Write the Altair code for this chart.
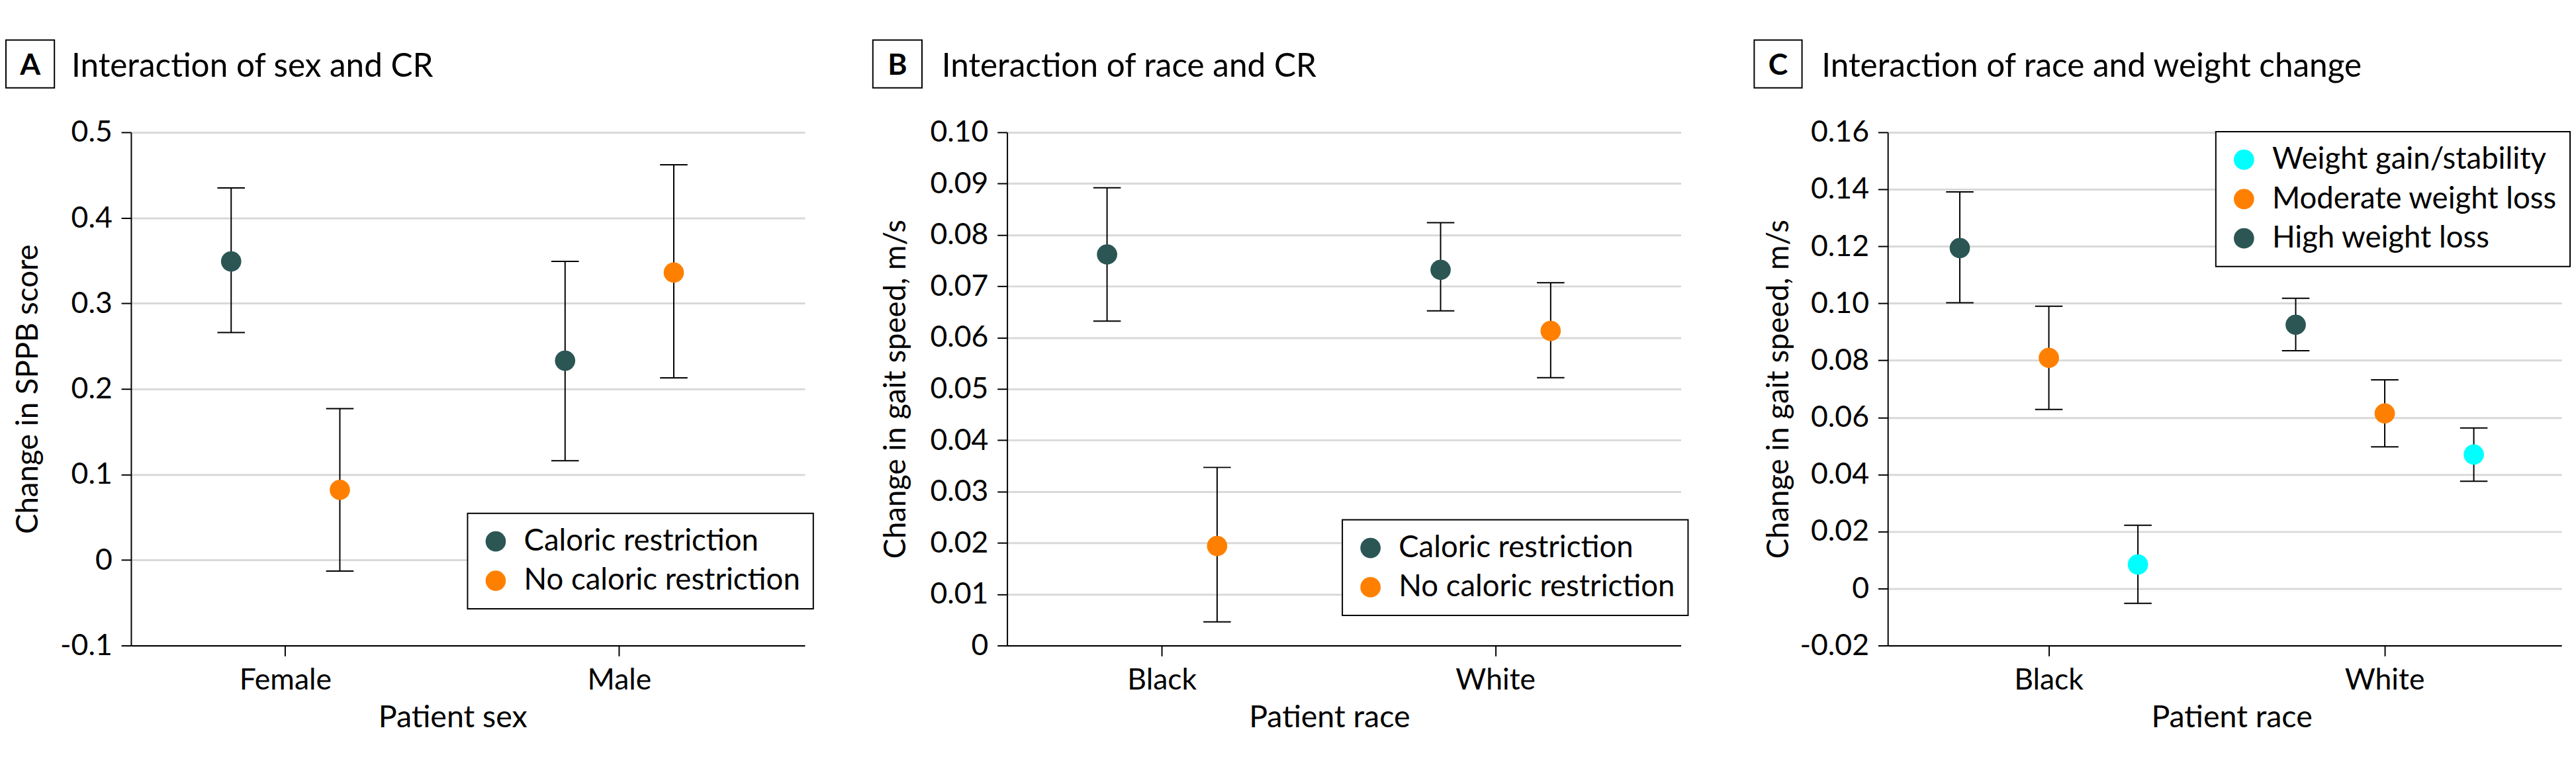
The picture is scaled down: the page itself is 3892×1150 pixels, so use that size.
import altair as alt
import pandas as pd

# ---------------- data ----------------
# Panel A: change in SPPB score by sex and caloric restriction
sex_categories = ["Female", "Male"]
cr_groups = ["Caloric restriction", "No caloric restriction"]
a_sex = ["Female", "Female", "Male", "Male"]
a_group = ["Caloric restriction", "No caloric restriction", "Caloric restriction", "No caloric restriction"]
a_mean = [0.349, 0.082, 0.233, 0.336]
a_lower = [0.266, -0.013, 0.116, 0.213]
a_upper = [0.435, 0.177, 0.349, 0.462]
a_ticks = [-0.1, 0.0, 0.1, 0.2, 0.3, 0.4, 0.5]

# Panel B: change in gait speed by race and caloric restriction
race_categories = ["Black", "White"]
b_race = ["Black", "Black", "White", "White"]
b_group = ["Caloric restriction", "No caloric restriction", "Caloric restriction", "No caloric restriction"]
b_mean = [0.0762, 0.0194, 0.0732, 0.0613]
b_lower = [0.0632, 0.0046, 0.0652, 0.0522]
b_upper = [0.0892, 0.0347, 0.0824, 0.0707]
b_ticks = [0.0, 0.01, 0.02, 0.03, 0.04, 0.05, 0.06, 0.07, 0.08, 0.09, 0.10]

# Panel C: change in gait speed by race and weight change
wc_legend_order = ["Weight gain/stability", "Moderate weight loss", "High weight loss"]
wc_dodge_order = ["High weight loss", "Moderate weight loss", "Weight gain/stability"]
c_race = ["Black", "Black", "Black", "White", "White", "White"]
c_group = ["High weight loss", "Moderate weight loss", "Weight gain/stability",
           "High weight loss", "Moderate weight loss", "Weight gain/stability"]
c_mean = [0.1194, 0.0809, 0.0084, 0.0925, 0.0614, 0.0470]
c_lower = [0.1002, 0.0628, -0.0052, 0.0834, 0.0497, 0.0376]
c_upper = [0.1391, 0.0990, 0.0222, 0.1018, 0.0732, 0.0563]
c_ticks = [-0.02, 0.0, 0.02, 0.04, 0.06, 0.08, 0.10, 0.12, 0.14, 0.16]

TEAL = "#2B5654"
ORANGE = "#FF8000"
CYAN = "#00FFFF"

FONT = "Lato"
W, H = 1029, 784


def panel(cats, cat_vals, groups, means, lowers, uppers, x_title, y_title,
          y_domain, y_ticks, y_fmt, color_domain, color_range, dodge_order,
          band, legend_xy, letter, title, box_x, title_x, y_title_x, x_title_x):
    df = pd.DataFrame({"cat": cat_vals, "grp": groups, "mean": means,
                       "lower": lowers, "upper": uppers})
    pi, po, al = band
    x_enc = alt.X("cat:N", sort=cats,
                  scale=alt.Scale(type="band", domain=cats, paddingInner=pi,
                                  paddingOuter=po, align=al),
                  axis=alt.Axis(title=x_title, labelAngle=0, labelFontSize=45,
                                labelColor="black", labelPadding=51,
                                labelBaseline="alphabetic", tickSize=16,
                                tickWidth=2, tickColor="black",
                                domainColor="black", domainWidth=2, grid=False,
                                titleFontSize=47, titleFontWeight="normal",
                                titleColor="black", titleX=x_title_x, titleY=124,
                                titleBaseline="alphabetic", titleAlign="center"))
    off_enc = alt.XOffset("grp:N", sort=dodge_order,
                          scale=alt.Scale(domain=dodge_order, paddingInner=0,
                                          paddingOuter=0))
    label_expr = ("datum.value == 0 ? '0' : replace(format(datum.value, '" + y_fmt +
                  "'), '\u2212', '-')")
    y_axis = alt.Axis(title=y_title, values=y_ticks, labelExpr=label_expr,
                      labelFontSize=45, labelColor="black", labelPadding=14,
                      labelOverlap=False, tickSize=15, tickWidth=2,
                      tickColor="black", domainColor="black", domainWidth=2,
                      grid=True, gridColor="#D9D9D9", gridWidth=3,
                      titleFontSize=46, titleFontWeight="normal",
                      titleColor="black", titleX=y_title_x, titleY=H / 2,
                      titleBaseline="alphabetic", titleAlign="center")
    y_scale = alt.Scale(domain=y_domain, nice=False, zero=False)

    base = alt.Chart(df)
    rules = base.mark_rule(color="black", strokeWidth=2).encode(
        x=x_enc, xOffset=off_enc,
        y=alt.Y("lower:Q", scale=y_scale, axis=y_axis), y2="upper:Q")
    caps_lo = base.mark_tick(color="black", thickness=2, size=42, opacity=1).encode(
        x=x_enc, xOffset=off_enc, y=alt.Y("lower:Q", scale=y_scale, axis=y_axis))
    caps_hi = base.mark_tick(color="black", thickness=2, size=42, opacity=1).encode(
        x=x_enc, xOffset=off_enc, y=alt.Y("upper:Q", scale=y_scale, axis=y_axis))
    lx, ly = legend_xy
    points = base.mark_circle(size=962, opacity=1).encode(
        x=x_enc, xOffset=off_enc,
        y=alt.Y("mean:Q", scale=y_scale, axis=y_axis),
        color=alt.Color("grp:N", sort=color_domain,
                        scale=alt.Scale(domain=color_domain, range=color_range),
                        legend=alt.Legend(title=None, orient="none", legendX=lx,
                                          legendY=ly, labelFontSize=46,
                                          labelColor="black", labelLimit=2000,
                                          symbolType="circle", symbolSize=962,
                                          symbolStrokeWidth=0, symbolOpacity=1,
                                          padding=20, rowPadding=14,
                                          labelOffset=20, fillColor="white")))

    tdf = pd.DataFrame({"letter": [letter], "title": [title]})
    x0, x1 = box_x
    box = alt.Chart(tdf).mark_rect(fill="white", stroke="black", strokeWidth=2).encode(
        x=alt.value(x0), x2=alt.value(x1), y=alt.value(-141), y2=alt.value(-68))
    letter_mark = alt.Chart(tdf).mark_text(fontSize=45, fontWeight="bold",
                                           align="center", baseline="alphabetic",
                                           color="black").encode(
        text="letter:N", x=alt.value((x0 + x1) / 2), y=alt.value(-88))
    title_mark = alt.Chart(tdf).mark_text(fontSize=50, align="left",
                                          baseline="alphabetic",
                                          color="black").encode(
        text="title:N", x=alt.value(title_x), y=alt.value(-85))

    return alt.layer(rules, caps_lo, caps_hi, points, box, letter_mark,
                     title_mark).properties(width=W, height=H)


chart_a = panel(sex_categories, a_sex, a_group, a_mean, a_lower, a_upper,
                "Patient sex", "Change in SPPB score", [-0.1, 0.5], a_ticks, ".1f",
                cr_groups, [TEAL, ORANGE], cr_groups,
                (0.349, 0.1833, 0.374), (514, 582), "A",
                "Interaction of sex and CR", (-191, -117), -91, -143, 491)

chart_b = panel(race_categories, b_race, b_group, b_mean, b_lower, b_upper,
                "Patient race", "Change in gait speed, m/s", [0.0, 0.10], b_ticks, ".2f",
                cr_groups, [TEAL, ORANGE], cr_groups,
                (0.34, 0.18, 0.374), (512, 592), "B",
                "Interaction of race and CR", (-205, -130), -100, -156, 492)

chart_c = panel(race_categories, c_race, c_group, c_mean, c_lower, c_upper,
                "Patient race", "Change in gait speed, m/s", [-0.02, 0.16], c_ticks, ".2f",
                wc_legend_order, [CYAN, ORANGE, TEAL], wc_dodge_order,
                (0.2047, 0.1053, 0.389), (501, -1), "C",
                "Interaction of race and weight change", (-204, -131), -101, -152, 525)


def independent(c):
    return c.resolve_scale(x="independent", y="independent", color="independent",
                           xOffset="independent").resolve_legend(color="independent")


inner = independent(alt.hconcat(chart_b, chart_c, spacing=99))
chart = independent(alt.hconcat(chart_a, inner, spacing=89)).properties(
    padding={"left": 0, "top": 46, "right": 0, "bottom": 0}
).configure(font=FONT).configure_view(strokeWidth=0).configure_legend(
    strokeColor="black", strokeWidth=2, cornerRadius=0)

chart.save("out.html", embed_options={"renderer": "svg", "actions": False})
